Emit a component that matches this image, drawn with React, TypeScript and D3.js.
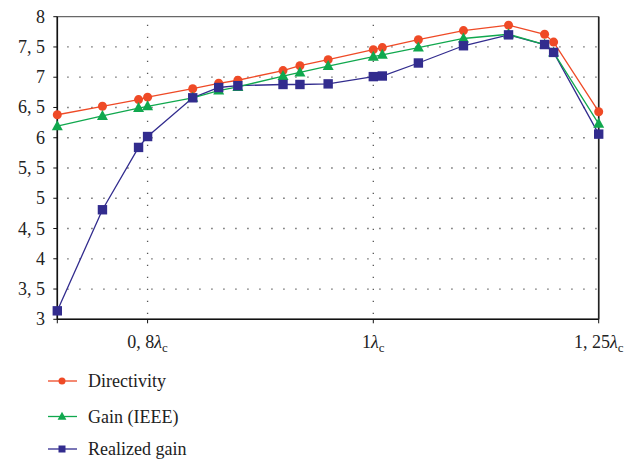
import React from "react";
import * as d3 from "d3";

const xValues = [0.72, 0.76, 0.792, 0.8, 0.84, 0.863, 0.88, 0.92, 0.935, 0.96, 1.0, 1.01, 1.05, 1.1, 1.15, 1.19, 1.2, 1.25];
const directivity = [6.38, 6.52, 6.63, 6.67, 6.81, 6.9, 6.95, 7.11, 7.19, 7.29, 7.455, 7.49, 7.62, 7.77, 7.86, 7.71, 7.58, 6.43];
const gainIEEE = [6.19, 6.36, 6.49, 6.52, 6.66, 6.78, 6.84, 7.02, 7.08, 7.185, 7.34, 7.37, 7.49, 7.64, 7.71, 7.54, 7.41, 6.23];
const realizedGain = [3.14, 4.81, 5.84, 6.02, 6.66, 6.83, 6.86, 6.88, 6.88, 6.89, 7.01, 7.02, 7.235, 7.52, 7.7, 7.54, 7.41, 6.06];

const yTicks = [3, 3.5, 4, 4.5, 5, 5.5, 6, 6.5, 7, 7.5, 8];
const xTicks = [0.8, 1, 1.25];
const xTickLabels = ["0, 8", "1", "1, 25"];

const RED = "#ef4a26";
const GREEN = "#10a84e";
const BLUE = "#322c8e";

export default function App() {
  const x = d3.scaleLinear().domain([0.72, 1, 1.25]).range([57.3, 373.3, 598.7]);
  const y = d3.scaleLinear().domain([3, 8]).range([319.3, 16.7]);
  const font = "Liberation Serif, DejaVu Serif, serif";
  const fmt = (v: number) => (Number.isInteger(v) ? String(v) : String(v).replace(".", ", "));

  const line = (vals: number[]) =>
    d3.line<number>().x((_, i) => x(xValues[i])).y((v) => y(v))(vals) || "";

  const tri = (cx: number, cy: number, s: number) =>
    `M${cx},${cy - s * 0.6}L${cx + s * 0.55},${cy + s * 0.4}L${cx - s * 0.55},${cy + s * 0.4}Z`;

  const legend = [
    { name: "Directivity", color: RED, kind: "circle" },
    { name: "Gain (IEEE)", color: GREEN, kind: "tri" },
    { name: "Realized gain", color: BLUE, kind: "square" },
  ];
  const legendY = [381, 416.5, 449];

  const [x0, x1] = [57.3, 598.7];
  const [yTop, yBot] = [16.7, 319.3];

  return (
    <svg width={627} height={462} style={{ position: "absolute", left: 0, top: 0, background: "#fff", fontFamily: font }}>
      {/* grid */}
      {yTicks.filter((t) => t > 3 && t < 8).map((t) => (
        <line key={"gy" + t} x1={x0 + 10} x2={x1} y1={y(t)} y2={y(t)} stroke="#555" strokeWidth={1.3} strokeDasharray="1.3,10.7" />
      ))}
      {xTicks.filter((t) => t < 1.25).map((t) => (
        <line key={"gx" + t} x1={x(t)} x2={x(t)} y1={yTop + 8} y2={yBot} stroke="#555" strokeWidth={1.3} strokeDasharray="1.3,10.7" />
      ))}
      {/* frame */}
      <rect x={x0} y={yTop} width={x1 - x0} height={yBot - yTop} fill="none" stroke="#444" strokeWidth={1} />
      <line x1={x0} x2={x0} y1={yTop} y2={yBot} stroke="#111" strokeWidth={1.6} />
      <line x1={x0} x2={x1} y1={yBot} y2={yBot} stroke="#111" strokeWidth={1.6} />
      <line x1={x1} x2={x1} y1={yTop} y2={yBot} stroke="#222" strokeWidth={1.6} />
      {/* y ticks */}
      {yTicks.map((t) => (
        <g key={"yt" + t}>
          <line x1={x0 - 4} x2={x0} y1={y(t)} y2={y(t)} stroke="#111" strokeWidth={1} />
          <text x={45} y={y(t) + 6} textAnchor="end" fontSize={18} fill="#222">
            {fmt(t)}
          </text>
        </g>
      ))}
      {/* x ticks */}
      {[0.72, ...xTicks].map((t) => (
        <line key={"xt" + t} x1={x(t)} x2={x(t)} y1={yBot} y2={yBot + 4} stroke="#111" strokeWidth={1} />
      ))}
      {xTicks.map((t, i) => (
        <text key={"xl" + t} x={x(t)} y={348} textAnchor="middle" fontSize={18} fill="#222">
          {xTickLabels[i]}
          <tspan fontStyle="italic">λ</tspan>
          <tspan fontSize={13} dy={4}>c</tspan>
        </text>
      ))}
      {/* lines */}
      <path d={line(realizedGain)} fill="none" stroke={BLUE} strokeWidth={1.3} />
      <path d={line(gainIEEE)} fill="none" stroke={GREEN} strokeWidth={1.3} />
      <path d={line(directivity)} fill="none" stroke={RED} strokeWidth={1.3} />
      {directivity.map((v, i) => (
        <circle key={"d" + i} cx={x(xValues[i])} cy={y(v)} r={4.5} fill={RED} />
      ))}
      {gainIEEE.map((v, i) => (
        <path key={"g" + i} d={tri(x(xValues[i]), y(v), 10)} fill={GREEN} />
      ))}
      {realizedGain.map((v, i) => (
        <rect key={"r" + i} x={x(xValues[i]) - 4.7} y={y(v) - 4.7} width={9.4} height={9.4} fill={BLUE} />
      ))}
      {/* legend */}
      {legend.map((l, i) => (
        <g key={l.name}>
          <line x1={48} x2={77} y1={legendY[i]} y2={legendY[i]} stroke={l.color} strokeWidth={1.3} />
          {l.kind === "circle" && <circle cx={62} cy={legendY[i]} r={3.5} fill={l.color} />}
          {l.kind === "tri" && <path d={tri(62, legendY[i], 8)} fill={l.color} />}
          {l.kind === "square" && <rect x={58.5} y={legendY[i] - 3.5} width={7} height={7} fill={l.color} />}
          <text x={88} y={legendY[i] + 6} fontSize={18} fill="#222">
            {l.name}
          </text>
        </g>
      ))}
    </svg>
  );
}
